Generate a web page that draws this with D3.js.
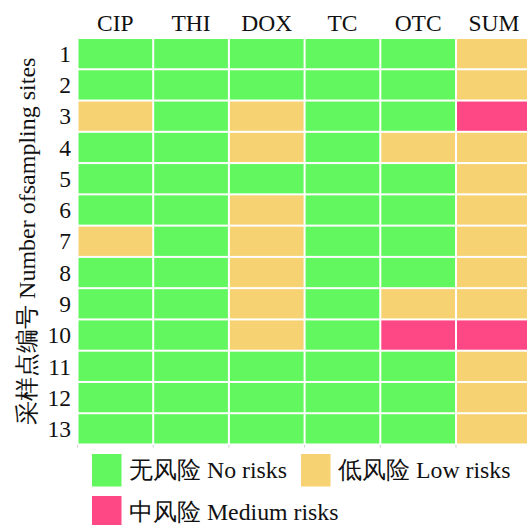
<!DOCTYPE html>
<html><head><meta charset="utf-8">
<script src="https://cdn.jsdelivr.net/npm/d3@7"></script>
<style>body{margin:0;background:#fff;}svg{display:block;}</style>
</head><body>
<script>
const columns = ["CIP","THI","DOX","TC","OTC","SUM"];
const sites = ["1","2","3","4","5","6","7","8","9","10","11","12","13"];
// 0 = no risk, 1 = low risk, 2 = medium risk
const riskCIP = [0,0,1,0,0,0,1,0,0,0,0,0,0];
const riskTHI = [0,0,0,0,0,0,0,0,0,0,0,0,0];
const riskDOX = [0,0,1,1,0,1,1,1,1,1,0,0,0];
const riskTC  = [0,0,0,0,0,0,0,0,0,0,0,0,0];
const riskOTC = [0,0,0,1,0,0,0,0,1,2,0,0,0];
const riskSUM = [1,1,2,1,1,1,1,1,1,2,1,1,1];
const riskLevels = ["无风险 No risks","低风险 Low risks","中风险 Medium risks"];
const riskColors = ["#63f75f","#f6d273","#fe4886"];
const yTitle = "采样点编号 Number ofsampling sites";

const series = [riskCIP,riskTHI,riskDOX,riskTC,riskOTC,riskSUM];
const cells = [];
columns.forEach((c,i)=>sites.forEach((s,j)=>cells.push({col:c,site:s,v:series[i][j]})));

const W=527,H=525;
const svg=d3.select("body").append("svg").attr("width",W).attr("height",H);
const font="'Liberation Serif','Times New Roman',serif";
const x=d3.scaleBand().domain(columns).range([77.5,77.5+6*75.7]);
const y=d3.scaleBand().domain(sites).range([38,444.5]);
const color=d3.scaleOrdinal().domain([0,1,2]).range(riskColors);

svg.selectAll("rect.cell").data(cells).join("rect").attr("class","cell")
 .attr("x",d=>x(d.col)+1).attr("y",d=>y(d.site)+1)
 .attr("width",x.bandwidth()-2).attr("height",y.bandwidth()-2)
 .attr("fill",d=>color(d.v));

// top column labels
svg.append("g").selectAll("text").data(columns).join("text")
 .attr("x",d=>x(d)+x.bandwidth()/2).attr("y",31)
 .attr("text-anchor","middle").attr("font-family",font).attr("font-size",23.5)
 .attr("fill","#111").text(d=>d);

// row labels
svg.append("g").selectAll("text").data(sites).join("text")
 .attr("x",71).attr("y",d=>y(d)+y.bandwidth()/2).attr("dy","0.35em")
 .attr("text-anchor","end").attr("font-family",font).attr("font-size",23.5)
 .attr("fill","#111").text(d=>d);

// bottom tiny ticks
svg.append("g").selectAll("line").data(columns).join("line")
 .attr("x1",d=>x(d)).attr("x2",d=>x(d)).attr("y1",445).attr("y2",447.5)
 .attr("stroke","#ccc").attr("stroke-width",1);

// y title
svg.append("text").attr("transform",`translate(35,${(38+444.5)/2}) rotate(-90)`)
 .attr("text-anchor","middle").attr("font-family",font).attr("font-size",24)
 .attr("fill","#111").text(yTitle);

// legend
const legPos=[[92,454],[301,454],[92,496]];
const lg=svg.append("g").selectAll("g").data(riskLevels).join("g")
 .attr("transform",(d,i)=>`translate(${legPos[i][0]},${legPos[i][1]})`);
lg.append("rect").attr("width",29.5).attr("height",32.5).attr("fill",(d,i)=>riskColors[i]);
lg.append("text").attr("x",37).attr("y",24).attr("font-family",font).attr("font-size",23.8)
 .attr("fill","#111").text(d=>d);
</script>
</body></html>
